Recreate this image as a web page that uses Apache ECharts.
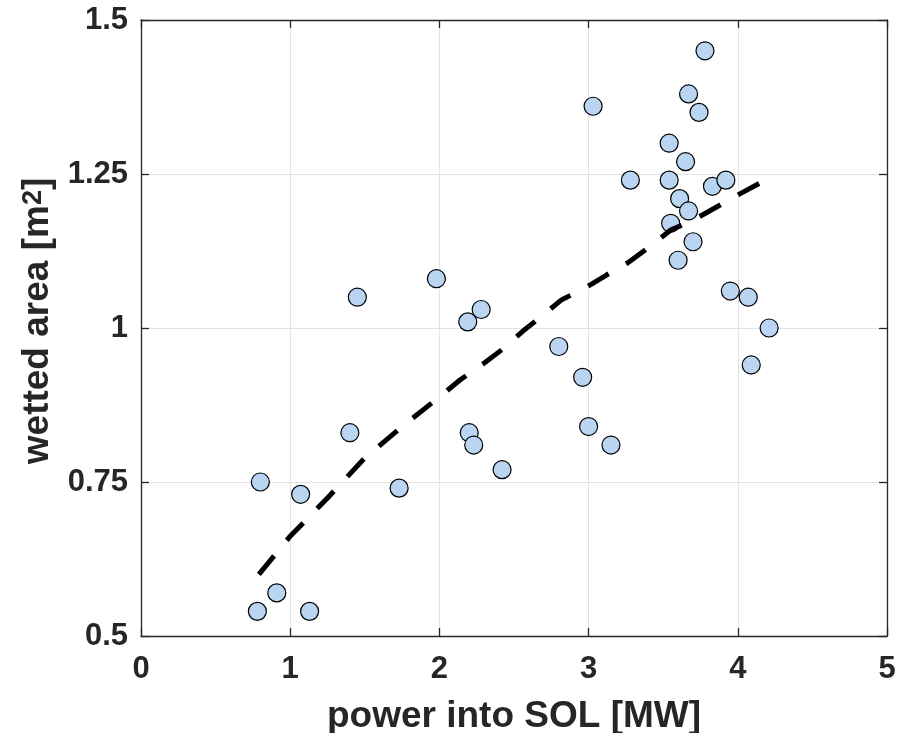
<!DOCTYPE html>
<html>
<head>
<meta charset="utf-8">
<script src="https://cdn.jsdelivr.net/npm/echarts@6/dist/echarts.min.js"></script>
<style>
html,body{margin:0;padding:0;background:#fff;}
#c{width:904px;height:733px;}
</style>
</head>
<body>
<div id="c"></div>
<script>
// Scatter data: power into SOL [MW] vs wetted area [m^2]
const powerMW = [0.78,0.80,0.91,1.07,1.13,1.40,1.45,1.73,1.98,2.19,2.20,2.23,2.28,2.42,2.80,2.96,3.00,3.03,3.15,3.28,3.54,3.54,3.55,3.60,3.61,3.65,3.67,3.67,3.70,3.74,3.78,3.83,3.92,3.95,4.07,4.09,4.21];
const wettedArea = [0.54,0.75,0.57,0.73,0.54,0.83,1.05,0.74,1.08,1.01,0.83,0.81,1.03,0.77,0.97,0.92,0.84,1.36,0.81,1.24,1.30,1.24,1.17,1.11,1.21,1.27,1.38,1.19,1.14,1.35,1.45,1.23,1.24,1.06,1.05,0.94,1.00];
// Fitted trend (dashed)
const fitX = [0.79,1.00,1.25,1.50,1.75,2.00,2.14,2.29,2.42,2.56,2.68,2.82,2.97,3.12,3.27,3.41,3.55,3.70,3.84,4.00,4.17];
const fitY = [0.600,0.662,0.724,0.789,0.840,0.888,0.916,0.941,0.965,0.995,1.018,1.046,1.064,1.086,1.107,1.132,1.159,1.175,1.194,1.216,1.238];
// Axis ticks
const xTicks = {min:0, max:5, step:1};
const yTicks = {min:0.5, max:1.5, step:0.25};

const FONT = 'Liberation Sans, Arial, Helvetica, sans-serif';
const AX = '#262626';
const GRID = '#e3e3e3';

const chart = echarts.init(document.getElementById('c'), null, {renderer:'canvas'});
const scatterData = powerMW.map((x,i)=>[x, wettedArea[i]]);
const fitData = fitX.map((x,i)=>[x, fitY[i]]);

const tickLabel = {color:AX, fontSize:31, fontWeight:'bold', fontFamily:FONT};

chart.setOption({
  backgroundColor:'#fff',
  animation:false,
  grid:{left:141, right:17, top:20, bottom:97, containLabel:false, outerBoundsMode:'none'},
  xAxis:[{
    type:'value', min:xTicks.min, max:xTicks.max, interval:xTicks.step,
    position:'bottom',
    axisLine:{show:true, onZero:false, lineStyle:{color:AX, width:1.3}},
    axisTick:{show:true, inside:true, length:8, lineStyle:{color:AX, width:1.3}},
    splitLine:{show:true, lineStyle:{color:GRID, width:1}},
    axisLabel:Object.assign({margin:18}, tickLabel),
    name:'power into SOL [MW]', nameLocation:'middle', nameGap:62,
    nameTextStyle:{color:AX, fontSize:37, fontWeight:'bold', fontFamily:FONT}
  },{
    type:'value', min:xTicks.min, max:xTicks.max, interval:xTicks.step,
    position:'top',
    axisLine:{show:true, onZero:false, lineStyle:{color:AX, width:1.3}},
    axisTick:{show:true, inside:true, length:8, lineStyle:{color:AX, width:1.3}},
    splitLine:{show:false}, axisLabel:{show:false}
  }],
  yAxis:[{
    type:'value', min:yTicks.min, max:yTicks.max, interval:yTicks.step,
    position:'left',
    axisLine:{show:true, onZero:false, lineStyle:{color:AX, width:1.3}},
    axisTick:{show:true, inside:true, length:8, lineStyle:{color:AX, width:1.3}},
    splitLine:{show:true, lineStyle:{color:GRID, width:1}},
    axisLabel:Object.assign({margin:13}, tickLabel),
    name:'wetted area [m{sup|2}]', nameLocation:'middle', nameGap:72,
    nameTextStyle:{color:AX, fontSize:37, fontWeight:'bold', fontFamily:FONT, padding:[0,0,0,14],
      rich:{sup:{color:AX, fontSize:27, fontWeight:'bold', fontFamily:FONT, verticalAlign:'top', lineHeight:20}}}
  },{
    type:'value', min:yTicks.min, max:yTicks.max, interval:yTicks.step,
    position:'right',
    axisLine:{show:true, onZero:false, lineStyle:{color:AX, width:1.3}},
    axisTick:{show:true, inside:true, length:8, lineStyle:{color:AX, width:1.3}},
    splitLine:{show:false}, axisLabel:{show:false}
  }],
  series:[{
    type:'scatter', xAxisIndex:0, yAxisIndex:0,
    data:scatterData, symbol:'circle', symbolSize:18,
    itemStyle:{color:'#bad5f2', borderColor:'#000', borderWidth:1.2, opacity:1},
    z:2
  },{
    type:'line', xAxisIndex:0, yAxisIndex:0,
    data:fitData, showSymbol:false, symbol:'none', smooth:false,
    lineStyle:{color:'#000', width:5, type:[24,20], cap:'butt'},
    z:3
  }]
});
</script>
</body>
</html>
